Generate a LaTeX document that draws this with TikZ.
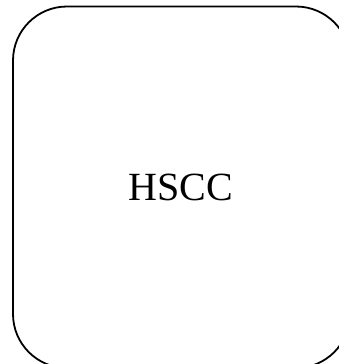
\documentclass[tikz,border=0pt]{standalone}
\usepackage{fontspec}
\setmainfont{Liberation Serif}
\begin{document}
\begin{tikzpicture}[x=1pt,y=-1pt,
  box/.style={draw=black,line width=1.8pt,rounded corners=54pt}]
\useasboundingbox (0,0) rectangle (339,364);
\clip (0,0) rectangle (339,364);
\draw[box] (13,6.5) rectangle (350,368);
\node[font=\fontsize{40}{48}\selectfont,anchor=base,inner sep=0pt] (t) at (180.5,200) {HSCC};
\end{tikzpicture}
\end{document}
